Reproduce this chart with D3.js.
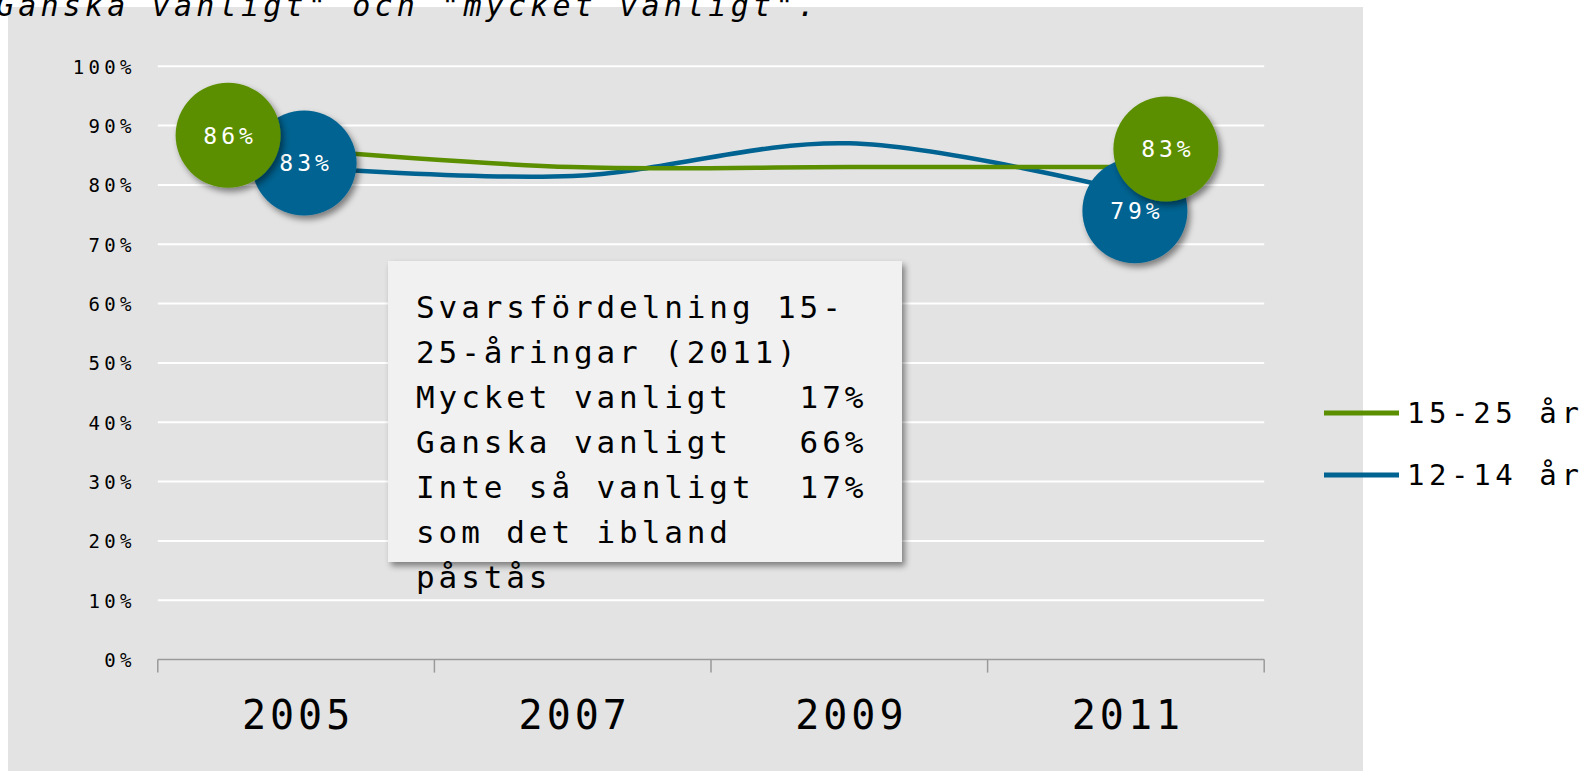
<!DOCTYPE html>
<html>
<head>
<meta charset="utf-8">
<script src="https://cdn.jsdelivr.net/npm/d3@7"></script>
<style>
  html, body { margin: 0; padding: 0; background: #ffffff; }
  svg { display: block; }
  text { font-family: "DejaVu Sans Mono", monospace; }
</style>
</head>
<body>
<svg id="chart" width="1596" height="771"></svg>
<script>
// ---- data ----
const years = ["2005", "2007", "2009", "2011"];
const seriesNames = ["15-25 år", "12-14 år"];
const values15_25 = [0.86, 0.83, 0.83, 0.83];
const values12_14 = [0.83, 0.815, 0.87, 0.79];
const seriesColors = ["#5b8f00", "#006391"];
const yTicks = [0, 0.1, 0.2, 0.3, 0.4, 0.5, 0.6, 0.7, 0.8, 0.9, 1.0];
const labelledPoints = [0, 3];
const titleText = "Ganska vanligt\" och \"mycket vanligt\".";
const noteLines = [
  "Svarsfördelning 15-",
  "25-åringar (2011)",
  "Mycket vanligt   17%",
  "Ganska vanligt   66%",
  "Inte så vanligt  17%",
  "som det ibland",
  "påstås"
];

// ---- layout ----
const svg = d3.select("#chart");
const W = 1596, H = 771;
const plot = { left: 157.8, right: 1264.2, top: 66.2, bottom: 659.6 };
// label bubble offsets (pixels from the data point) for the labelled points
const bubbleOffsets = [
  [[-68, -14], [40, -18]],   // 15-25 år
  [[8, -4], [9, 20]]         // 12-14 år
];
const bubbleR = 52.5;

const defs = svg.append("defs");
const f = defs.append("filter").attr("id", "shadow")
  .attr("x", "-30%").attr("y", "-30%").attr("width", "170%").attr("height", "170%");
f.append("feDropShadow").attr("dx", 3).attr("dy", 4).attr("stdDeviation", 3)
  .attr("flood-color", "#000").attr("flood-opacity", 0.45);

// gray panel
svg.append("rect").attr("x", 8).attr("y", 7).attr("width", 1355).attr("height", H - 7)
  .attr("fill", "#e3e3e3");

// title (cut off at the top, as in the source)
svg.append("text").attr("x", -4).attr("y", 16)
  .attr("font-size", 30).attr("font-style", "italic").attr("letter-spacing", 4.2)
  .attr("fill", "#000").text(titleText);

const x = d3.scaleBand().domain(years).range([plot.left, plot.right]).padding(0);
const y = d3.scaleLinear().domain([0, 1]).range([plot.bottom, plot.top]);
const cx = d => x(d) + x.bandwidth() / 2;

// grid
svg.append("g").selectAll("line").data(yTicks.filter(t => t > 0)).join("line")
  .attr("x1", plot.left).attr("x2", plot.right)
  .attr("y1", d => y(d)).attr("y2", d => y(d))
  .attr("stroke", "#ffffff").attr("stroke-width", 2);

// y axis labels
const yAxis = d3.axisLeft(y).tickValues(yTicks).tickSize(0).tickPadding(0)
  .tickFormat(d => Math.round(d * 100) + "%");
const gy = svg.append("g").attr("transform", `translate(${plot.left - 22},0)`).call(yAxis);
gy.select(".domain").remove();
gy.selectAll("text").attr("font-size", 19).attr("letter-spacing", 4.3)
  .attr("font-family", "DejaVu Sans Mono").attr("fill", "#000").attr("dy", "0.36em");

// x axis
svg.append("line").attr("x1", plot.left).attr("x2", plot.right)
  .attr("y1", plot.bottom).attr("y2", plot.bottom)
  .attr("stroke", "#9a9a9a").attr("stroke-width", 1.5);
const boundaries = years.map(d => x(d)).concat([x(years[years.length - 1]) + x.bandwidth()]);
svg.append("g").selectAll("line").data(boundaries).join("line")
  .attr("x1", d => d).attr("x2", d => d)
  .attr("y1", plot.bottom).attr("y2", plot.bottom + 13)
  .attr("stroke", "#9a9a9a").attr("stroke-width", 1.5);
const xAxis = d3.axisBottom(x).tickSize(0).tickPadding(0);
const gx = svg.append("g").attr("transform", `translate(0,${plot.bottom})`).call(xAxis);
gx.select(".domain").remove();
gx.selectAll("text").attr("font-size", 40).attr("letter-spacing", 4)
  .attr("font-family", "DejaVu Sans Mono").attr("fill", "#000")
  .attr("dy", 0).attr("y", 69.5).attr("dx", 2);

// lines
const allSeries = [values15_25, values12_14];
const line = d3.line().x((d, i) => cx(years[i])).y(d => y(d)).curve(d3.curveCatmullRom.alpha(0));
[1, 0].forEach(s => {
  svg.append("path").datum(allSeries[s]).attr("d", line)
    .attr("fill", "none").attr("stroke", seriesColors[s]).attr("stroke-width", 4.5)
    .attr("stroke-linecap", "round");
});

// note box
const note = svg.append("g");
note.append("rect").attr("x", 388).attr("y", 261).attr("width", 514).attr("height", 301)
  .attr("fill", "#f1f1f1").attr("filter", "url(#shadow)");
note.append("g").selectAll("text").data(noteLines).join("text")
  .attr("x", 416).attr("y", (d, i) => 318 + i * 45)
  .attr("font-size", 31).attr("letter-spacing", 3.9).attr("fill", "#000")
  .attr("xml:space", "preserve").style("white-space", "pre")
  .text(d => d);

// bubbles: blue first, then green on top
[1, 0].forEach(s => {
  labelledPoints.forEach((pi, k) => {
    const off = bubbleOffsets[s][k];
    const px = cx(years[pi]) + off[0];
    const py = y(allSeries[s][pi]) + off[1];
    const g = svg.append("g");
    g.append("circle").attr("cx", px).attr("cy", py).attr("r", bubbleR)
      .attr("fill", seriesColors[s]).attr("filter", "url(#shadow)");
    g.append("text").attr("x", px + 2).attr("y", py).attr("dy", "0.36em")
      .attr("text-anchor", "middle").attr("font-size", 23).attr("letter-spacing", 4)
      .attr("fill", "#fff").text(Math.round(allSeries[s][pi] * 100) + "%");
  });
});

// legend
const legend = svg.append("g");
const legendY = [413, 475];
seriesNames.forEach((name, i) => {
  legend.append("line").attr("x1", 1324).attr("x2", 1399)
    .attr("y1", legendY[i]).attr("y2", legendY[i])
    .attr("stroke", seriesColors[i]).attr("stroke-width", 5);
  legend.append("text").attr("x", 1407).attr("y", legendY[i] + 10)
    .attr("font-size", 29).attr("letter-spacing", 4.6).attr("fill", "#000")
    .text(name);
});
</script>
</body>
</html>
